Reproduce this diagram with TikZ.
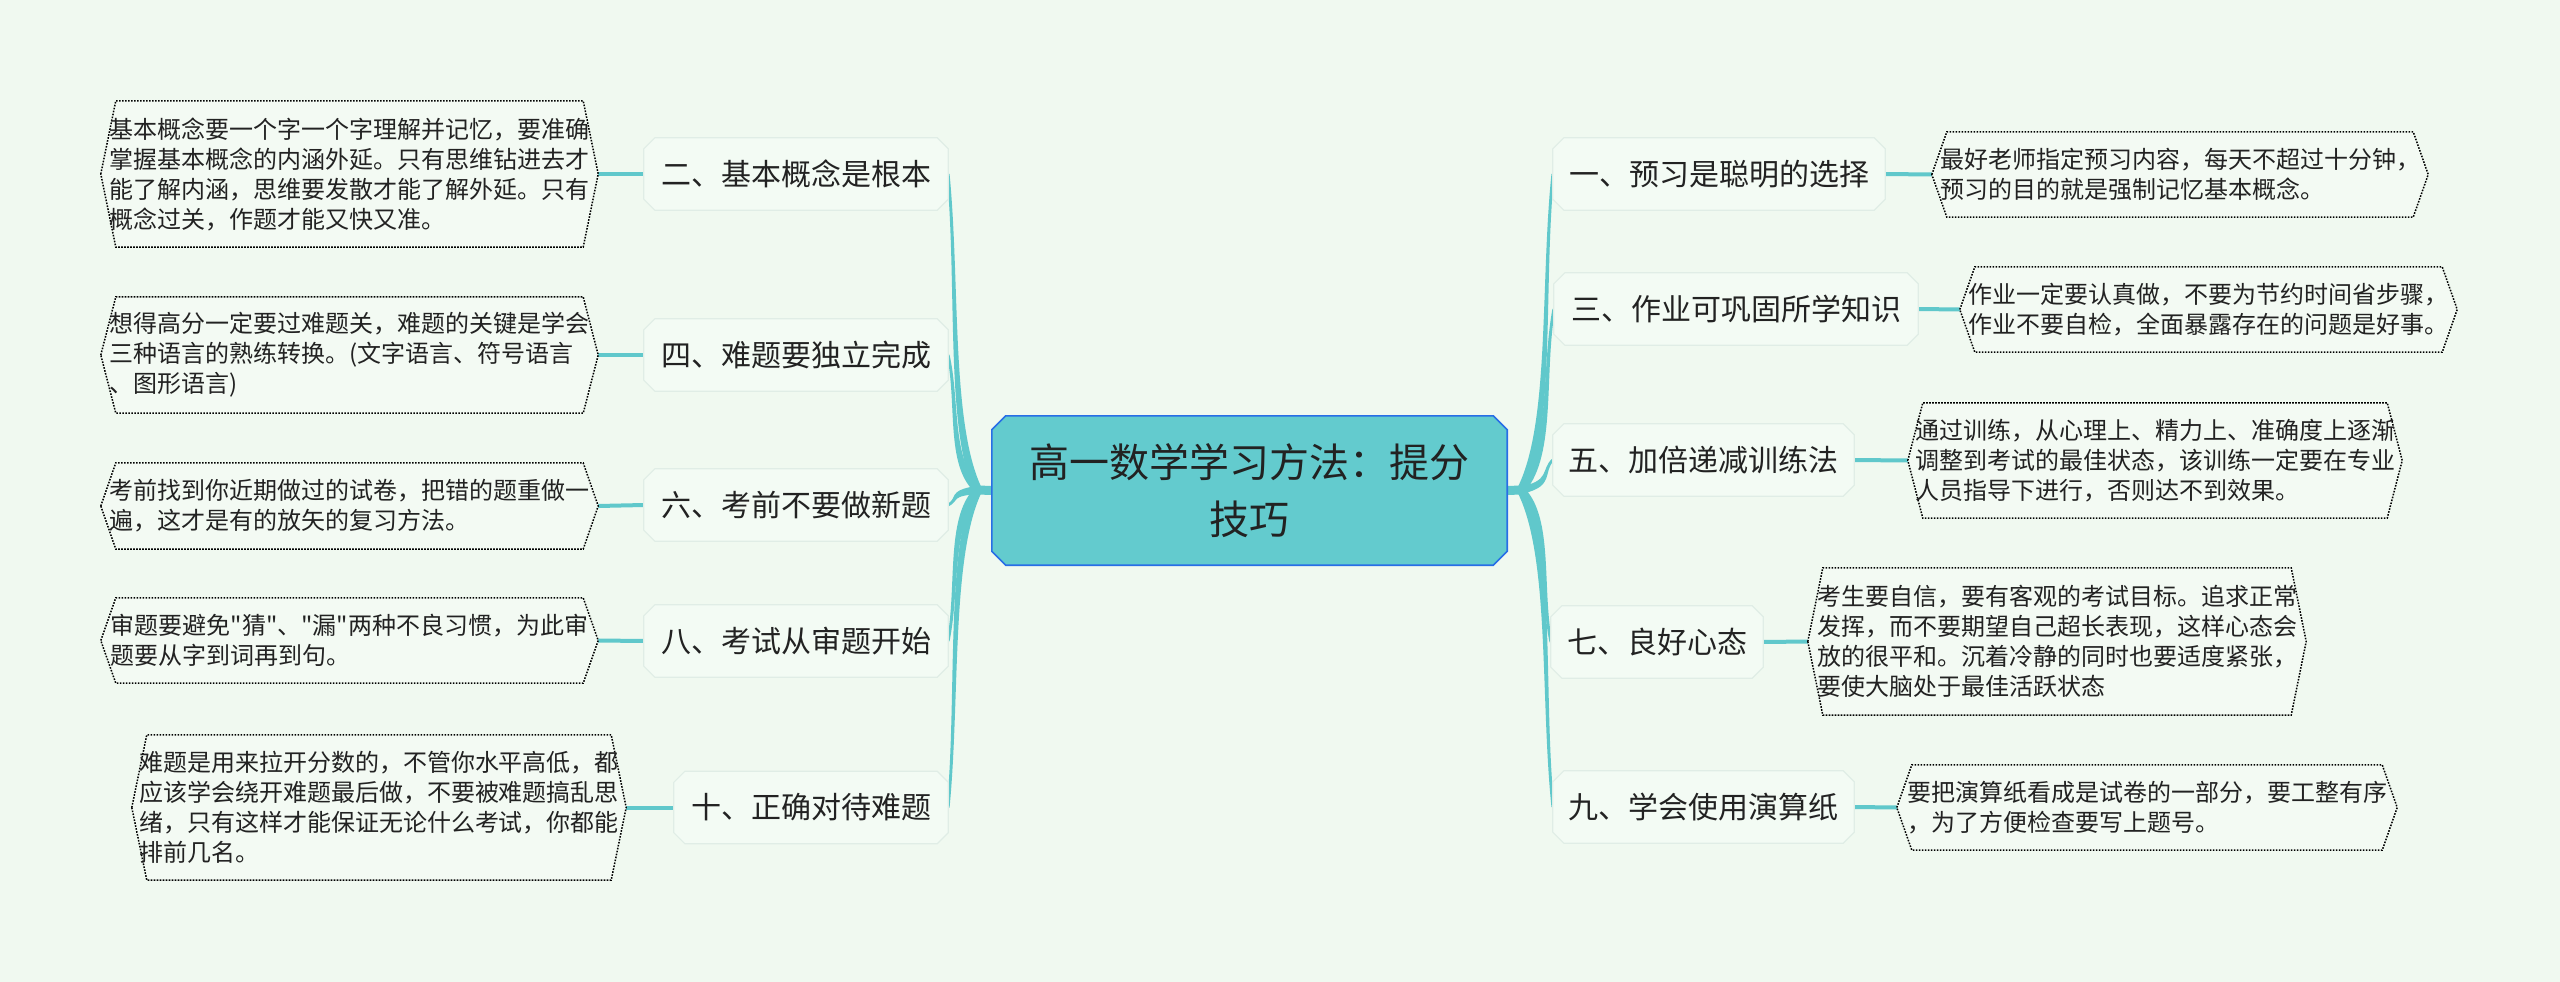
\documentclass[tikz,border=0pt]{standalone}
\usepackage{fontspec}
\newfontfamily\cjk{Noto Sans CJK SC}
\usetikzlibrary{calc}
\definecolor{bgc}{RGB}{240,249,240}
\definecolor{conn}{RGB}{96,200,203}
\definecolor{cfill}{RGB}{99,203,206}
\definecolor{cborder}{RGB}{40,110,230}
\definecolor{bfill}{RGB}{243,251,244}
\definecolor{bborder}{RGB}{224,237,230}
\definecolor{lfill}{RGB}{243,250,243}
\definecolor{txt}{RGB}{34,34,34}
\pgfdeclarelayer{back}
\pgfdeclarelayer{links}
\pgfdeclarelayer{shapes}
\pgfsetlayers{back,links,shapes,main}
\tikzset{
  leaf/.style={draw=none, inner sep=0pt, align=left, text=txt, font=\cjk\fontsize{24}{30}\selectfont},
  branch/.style={draw=none, inner sep=0pt, minimum height=72, text=txt, font=\cjk\fontsize{30}{36}\selectfont},
  root/.style={draw=none, inner sep=0pt, align=center, text=txt, font=\cjk\fontsize{40}{57}\selectfont},
  leafline/.style={draw=black, fill=lfill, line width=1.5pt, dash pattern=on 1.6pt off 1.4pt},
  bshape/.style={fill=bfill, draw=bborder, line width=1.2pt},
  cshape/.style={fill=cfill, draw=cborder, line width=1.6pt},
  link/.style={draw=conn, line width=4pt},
  stub/.style={draw=conn, line width=9pt}
}
\newcommand\octo[3]{%
  \path[#3] ($(#1.north west)+(#2,0)$) -- ($(#1.north east)+(-#2,0)$) -- ($(#1.north east)+(0,#2)$) -- ($(#1.south east)+(0,-#2)$) -- ($(#1.south east)+(-#2,0)$) -- ($(#1.south west)+(#2,0)$) -- ($(#1.south west)+(0,-#2)$) -- ($(#1.north west)+(0,#2)$) -- cycle;}
\newcommand\hexa[1]{%
  \path[leafline] (#1.west) -- ($(#1.north west)+(15,0)$) -- ($(#1.north east)+(-15,0)$) -- (#1.east) -- ($(#1.south east)+(-15,0)$) -- ($(#1.south west)+(15,0)$) -- cycle;}
\newcommand\taper[2]{%
  \coordinate (tc0) at (#2 |- #1);
  \coordinate (tc1) at ($(tc0)!0.2!(#2)$);
  \coordinate (tc2) at ($(#1)!0.65!(#2)$);
  \coordinate (td) at ($(#2)-(#1)$);
  \coordinate (tn) at ($(0,0)!4.5pt!90:(td)$);
  \fill[conn] ($(#1)+(tn)$) .. controls ($(tc1)+0.6*(tn)$) and ($(tc2)+0.35*(tn)$) .. ($(#2)+0.3*(tn)$) -- ($(#2)-0.3*(tn)$) .. controls ($(tc2)-0.35*(tn)$) and ($(tc1)-0.6*(tn)$) .. ($(#1)-(tn)$) -- cycle;}
\begin{document}
\begin{tikzpicture}[x=1pt,y=-1pt]
\useasboundingbox (0,0) rectangle (2560,982);
\begin{pgfonlayer}{back}
\fill[bgc] (0,0) rectangle (2560,982);
\end{pgfonlayer}

% root
\node[root, minimum width=515, minimum height=149] (C) at (1249.5,490.5) {高一数学学习方法：提分\\技巧};
\coordinate (SL) at (978,490);
\coordinate (SR) at (1521,490);

% left branches
\node[branch, minimum width=304] (B2) at (796,174) {二、基本概念是根本};
\node[branch, minimum width=304] (B4) at (796,355) {四、难题要独立完成};
\node[branch, minimum width=304] (B6) at (796,505) {六、考前不要做新题};
\node[branch, minimum width=304] (B8) at (796,641) {八、考试从审题开始};
\node[branch, minimum width=274] (B10) at (811,807.5) {十、正确对待难题};

% right branches
\node[branch, minimum width=332] (B1) at (1719,174) {一、预习是聪明的选择};
\node[branch, minimum width=364] (B3) at (1736,309) {三、作业可巩固所学知识};
\node[branch, minimum width=301] (B5) at (1703.5,460) {五、加倍递减训练法};
\node[branch, minimum width=212] (B7) at (1657,642) {七、良好心态};
\node[branch, minimum width=301] (B9) at (1703.5,807) {九、学会使用演算纸};

% left leaves
\node[leaf, minimum width=497, minimum height=146] (L2) at (349.5,174) {基本概念要一个字一个字理解并记忆，要准确\\掌握基本概念的内涵外延。只有思维钻进去才\\能了解内涵，思维要发散才能了解外延。只有\\概念过关，作题才能又快又准。};
\node[leaf, minimum width=497, minimum height=116] (L4) at (349.5,355) {想得高分一定要过难题关，难题的关键是学会\\三种语言的熟练转换。(文字语言、符号语言\\、图形语言)};
\node[leaf, minimum width=497, minimum height=86] (L6) at (349.5,506) {考前找到你近期做过的试卷，把错的题重做一\\遍，这才是有的放矢的复习方法。};
\node[leaf, minimum width=497, minimum height=85] (L8) at (349.5,640.5) {审题要避免"猜"、"漏"两种不良习惯，为此审\\题要从字到词再到句。};
\node[leaf, minimum width=494, minimum height=145] (L10) at (379,807.5) {难题是用来拉开分数的，不管你水平高低，都\\应该学会绕开难题最后做，不要被难题搞乱思\\绪，只有这样才能保证无论什么考试，你都能\\排前几名。};

% right leaves
\node[leaf, minimum width=496, minimum height=85] (R1) at (2180,174.5) {最好老师指定预习内容，每天不超过十分钟，\\预习的目的就是强制记忆基本概念。};
\node[leaf, minimum width=497, minimum height=85] (R3) at (2208.5,309.5) {作业一定要认真做，不要为节约时间省步骤，\\作业不要自检，全面暴露存在的问题是好事。};
\node[leaf, minimum width=494, minimum height=115] (R5) at (2155,460.5) {通过训练，从心理上、精力上、准确度上逐渐\\调整到考试的最佳状态，该训练一定要在专业\\人员指导下进行，否则达不到效果。};
\node[leaf, minimum width=498, minimum height=147] (R7) at (2057,641.5) {考生要自信，要有客观的考试目标。追求正常\\发挥，而不要期望自己超长表现，这样心态会\\放的很平和。沉着冷静的同时也要适度紧张，\\要使大脑处于最佳活跃状态};
\node[leaf, minimum width=500, minimum height=85] (R9) at (2147,807.5) {要把演算纸看成是试卷的一部分，要工整有序\\，为了方便检查要写上题号。};

\begin{pgfonlayer}{links}
\draw[stub] (C.west) -- (SL);
\draw[stub] (C.east) -- (SR);
\taper{SL}{B2.east}
\taper{SL}{B4.east}
\taper{SL}{B6.east}
\taper{SL}{B8.east}
\taper{SL}{B10.east}
\taper{SR}{B1.west}
\taper{SR}{B3.west}
\taper{SR}{B5.west}
\taper{SR}{B7.west}
\taper{SR}{B9.west}
\draw[link] (L2.east) -- (B2.west);
\draw[link] (L4.east) -- (B4.west);
\draw[link] (L6.east) -- (B6.west);
\draw[link] (L8.east) -- (B8.west);
\draw[link] (L10.east) -- (B10.west);
\draw[link] (B1.east) -- (R1.west);
\draw[link] (B3.east) -- (R3.west);
\draw[link] (B5.east) -- (R5.west);
\draw[link] (B7.east) -- (R7.west);
\draw[link] (B9.east) -- (R9.west);
\end{pgfonlayer}

\begin{pgfonlayer}{shapes}
\octo{C}{14}{cshape}
\octo{B2}{11}{bshape}
\octo{B4}{11}{bshape}
\octo{B6}{11}{bshape}
\octo{B8}{11}{bshape}
\octo{B10}{11}{bshape}
\octo{B1}{11}{bshape}
\octo{B3}{11}{bshape}
\octo{B5}{11}{bshape}
\octo{B7}{11}{bshape}
\octo{B9}{11}{bshape}
\hexa{L2}
\hexa{L4}
\hexa{L6}
\hexa{L8}
\hexa{L10}
\hexa{R1}
\hexa{R3}
\hexa{R5}
\hexa{R7}
\hexa{R9}
\end{pgfonlayer}
\end{tikzpicture}
\end{document}
